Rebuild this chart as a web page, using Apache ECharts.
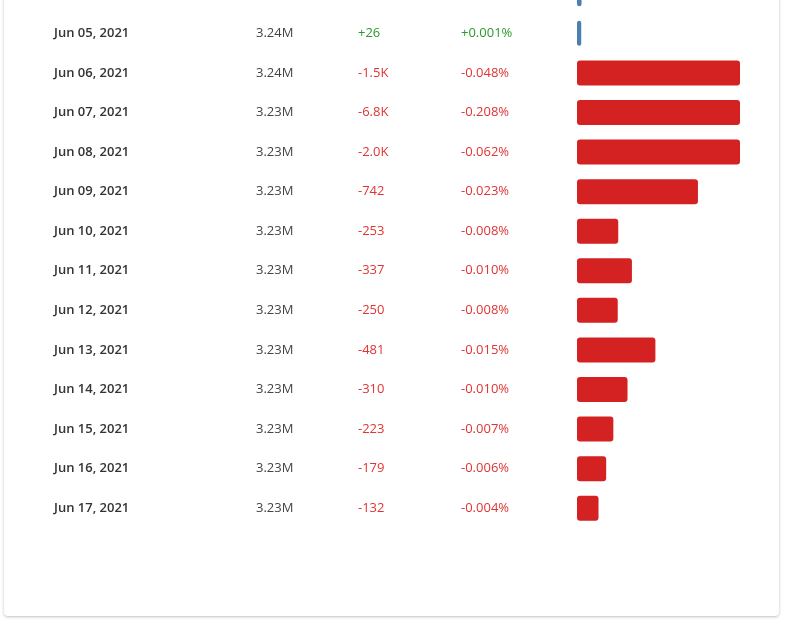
<!DOCTYPE html>
<html><head><meta charset="utf-8">
<script src="https://cdn.jsdelivr.net/npm/echarts@6/dist/echarts.min.js"></script>
<style>
body{margin:0;background:#fff;width:790px;height:620px;overflow:hidden;position:relative}
#card{position:absolute;left:4px;top:-20px;width:775px;height:636px;background:#fff;border-radius:4px;box-shadow:0 1px 3px rgba(0,0,0,0.25)}
#c{position:absolute;left:0;top:-40px;width:790px;height:660px}
</style></head><body>
<div id="card"></div><div id="c"></div>
<script>
const dates=["Jun 04, 2021","Jun 05, 2021","Jun 06, 2021","Jun 07, 2021","Jun 08, 2021","Jun 09, 2021","Jun 10, 2021","Jun 11, 2021","Jun 12, 2021","Jun 13, 2021","Jun 14, 2021","Jun 15, 2021","Jun 16, 2021","Jun 17, 2021"];
const population=["3.24M","3.24M","3.24M","3.23M","3.23M","3.23M","3.23M","3.23M","3.23M","3.23M","3.23M","3.23M","3.23M","3.23M"];
const changes=[28,26,-1500,-6800,-2000,-742,-253,-337,-250,-481,-310,-223,-179,-132];
const changeLabels=["+28","+26","-1.5K","-6.8K","-2.0K","-742","-253","-337","-250","-481","-310","-223","-179","-132"];
const pctLabels=["+0.001%","+0.001%","-0.048%","-0.208%","-0.062%","-0.023%","-0.008%","-0.010%","-0.008%","-0.015%","-0.010%","-0.007%","-0.006%","-0.004%"];
const chart=echarts.init(document.getElementById('c'));
const ff="'Open Sans', sans-serif";
chart.setOption({
 animation:false,
 grid:{left:577,right:50,top:14,height:554},
 xAxis:{type:'value',min:0,max:1000,show:false},
 yAxis:{type:'category',inverse:true,data:dates,axisLine:{show:false},axisTick:{show:false},
  axisLabel:{align:'left',margin:523,fontFamily:ff,
   formatter:(v,i)=>{const up=changes[i]>=0;const s=up?'g':'r';
     return `{d|${v}}{p|${population[i]}}{${s}|${changeLabels[i]}}{${s}|${pctLabels[i]}}`.replace(`{${s}|${changeLabels[i]}}`,`{${s}c|${changeLabels[i]}}`);},
   rich:{d:{width:202,fontSize:13,fontWeight:600,color:'#333',fontFamily:ff},
     p:{width:102,fontSize:13,color:'#444',fontFamily:ff},
     rc:{width:103,fontSize:13,color:'#e03434',fontFamily:ff},
     gc:{width:103,fontSize:13,color:'#2a9a2a',fontFamily:ff},
     r:{width:110,fontSize:13,color:'#e03434',fontFamily:ff},
     g:{width:110,fontSize:13,color:'#2a9a2a',fontFamily:ff}}}},
 series:[{type:'bar',barWidth:25,clip:true,
  data:changes.map(v=>({value:Math.abs(v),itemStyle:{color:v>=0?'#4a7fb0':'#d42222',borderRadius:3}}))}]
});
</script></body></html>
